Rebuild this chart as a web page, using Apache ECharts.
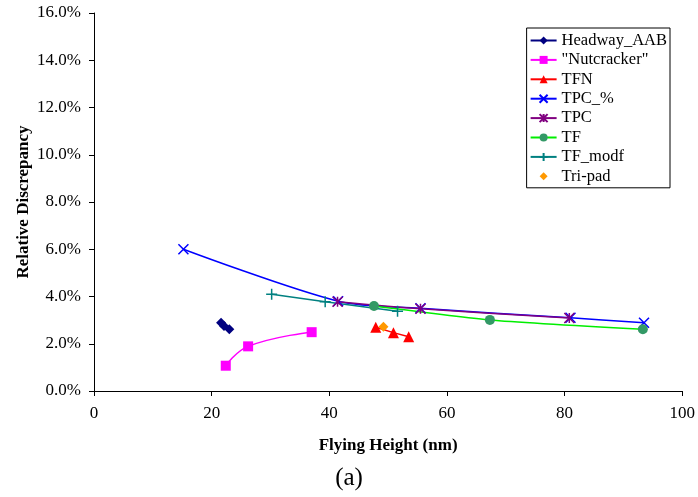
<!DOCTYPE html>
<html>
<head>
<meta charset="utf-8">
<script src="https://cdn.jsdelivr.net/npm/echarts@6/dist/echarts.min.js"></script>
<style>
  html, body { margin: 0; padding: 0; background: #fff; }
  #chart { width: 698px; height: 497px; }
</style>
</head>
<body>
<div id="chart"></div>
<script>
// values, relative discrepancy in %
const headwayAAB = [[21.6, 2.89], [22.1, 2.75], [23.0, 2.61]]
const nutcracker = [[22.4, 1.07], [26.2, 1.89], [37.0, 2.49]]
const tfn = [[47.9, 2.70], [50.9, 2.47], [53.5, 2.30]]
const tpcPct = [[15.2, 6.0], [41.5, 3.8], [55.5, 3.5], [81.0, 3.1], [93.5, 2.89]]
const tpc = [[41.4, 3.78], [55.5, 3.48], [80.8, 3.09]]
const tf = [[47.6, 3.6], [67.3, 3.01], [93.3, 2.61]]
const tfModf = [[30.2, 4.1], [39.3, 3.78], [51.6, 3.38]]
const triPad = [[49.2, 2.72]]

const serif = 'Liberation Serif'
const xPath = 'path://M0,0L10,10M0,10L10,0'
const starPath = 'path://M0,0L10,10M0,10L10,0M5,0L5,10'
const plusPath = 'path://M5,0L5,10M0,5L10,5'

const chart = echarts.init(document.getElementById('chart'))

const lineSeries = (name, data, color, symbol, size, extra) => Object.assign({
  name: name,
  type: 'line',
  data: data,
  symbol: symbol,
  symbolSize: size,
  showAllSymbol: true,
  lineStyle: { color: color, width: 1.5 },
  itemStyle: { color: color },
  emphasis: { disabled: true }
}, extra || {})

const option = {
  animation: false,
  backgroundColor: '#fff',
  grid: { left: 94, right: 15, top: 13, bottom: 106 },
  title: {
    text: '(a)',
    left: 'center',
    top: 461,
    textStyle: { fontFamily: serif, fontSize: 25, fontWeight: 'normal', color: '#000' }
  },
  legend: {
    orient: 'vertical',
    right: 28,
    top: 28,
    backgroundColor: '#fff',
    borderColor: '#000',
    borderWidth: 1,
    borderRadius: 0,
    padding: [4, 3, 3, 3],
    itemGap: 2.4,
    itemWidth: 26,
    itemHeight: 10,
    textStyle: { fontFamily: serif, fontSize: 16.5, color: '#000' },
    data: ['Headway_AAB', '"Nutcracker"', 'TFN', 'TPC_%', 'TPC', 'TF', 'TF_modf', 'Tri-pad']
  },
  xAxis: {
    type: 'value',
    min: 0,
    max: 100,
    interval: 20,
    name: 'Flying Height (nm)',
    nameLocation: 'middle',
    nameGap: 46,
    nameTextStyle: { fontFamily: serif, fontSize: 17, fontWeight: 'bold', color: '#000' },
    axisLine: { lineStyle: { color: '#000', width: 1 } },
    axisTick: { show: true, length: 5, lineStyle: { color: '#000' } },
    axisLabel: { fontFamily: serif, fontSize: 17, color: '#000', margin: 14 },
    splitLine: { show: false }
  },
  yAxis: {
    type: 'value',
    min: 0,
    max: 16,
    interval: 2,
    name: 'Relative Discrepancy',
    nameLocation: 'middle',
    nameGap: 62,
    nameMoveOverlap: false,
    nameTextStyle: { fontFamily: serif, fontSize: 17, fontWeight: 'bold', color: '#000' },
    axisLine: { show: true, lineStyle: { color: '#000', width: 1 } },
    axisTick: { show: true, length: 5, lineStyle: { color: '#000' } },
    axisLabel: { fontFamily: serif, fontSize: 17, color: '#000', margin: 13, formatter: v => v.toFixed(1) + '%' },
    splitLine: { show: false }
  },
  series: [
    lineSeries('Headway_AAB', headwayAAB, '#000080', 'diamond', 10),
    lineSeries('"Nutcracker"', nutcracker, '#ff00ff', 'rect', 10, { smooth: 0.45 }),
    lineSeries('TFN', tfn, '#ff0000', 'triangle', 11),
    lineSeries('TPC_%', tpcPct, '#0000ff', xPath, 10, {
      smooth: 0.3,
      itemStyle: { color: 'none', borderColor: '#0000ff', borderWidth: 1.5 }
    }),
    lineSeries('TPC', tpc, '#800080', starPath, 10, {
      smooth: 0.3,
      itemStyle: { color: 'none', borderColor: '#800080', borderWidth: 1.5 }
    }),
    lineSeries('TF', tf, '#00ee00', 'circle', 10, {
      smooth: 0.2,
      itemStyle: { color: '#339966' }
    }),
    lineSeries('TF_modf', tfModf, '#008080', plusPath, 11, {
      itemStyle: { color: 'none', borderColor: '#008080', borderWidth: 1.5 }
    }),
    // markers only, drawn as a line series so its legend icon matches the others
    lineSeries('Tri-pad', triPad, '#ff9900', 'diamond', 10, {
      lineStyle: { color: '#ff9900', width: 0, opacity: 0 }
    })
  ]
}

chart.setOption(option)
</script>
</body>
</html>
